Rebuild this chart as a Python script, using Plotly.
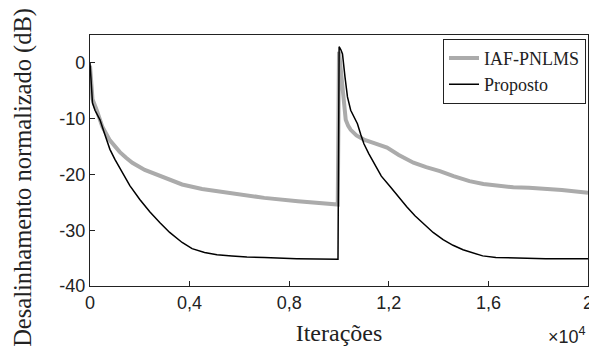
import plotly.graph_objects as go

# IAF-PNLMS (gray)
iter_iaf = [0, 30, 100, 270, 500, 800, 1000, 1200, 1450, 1700, 2200, 2650, 3100, 3700, 4500, 5100, 5700, 7000, 8350, 9000, 9950,
            10000, 10060, 10130, 10200, 10270, 10370, 10470, 10700, 11000, 11500, 11930, 12400, 12990, 13500, 14050, 14600,
            15240, 15800, 16300, 17000, 17630, 18300, 18950, 20000]
db_iaf = [-0.5, -3, -6.5, -8.5, -11.5, -13.9, -15.0, -16, -17.0, -17.9, -19.2, -20, -20.9, -21.8, -22.6, -23.0, -23.4, -24.2, -24.8, -25.0, -25.4,
          2.0, -1, -5, -8, -10.2, -11.3, -12, -13.0, -13.75, -14.5, -15.2, -16.5, -17.9, -18.7, -19.4, -20.3,
          -21.2, -21.7, -22, -22.3, -22.4, -22.6, -22.8, -23.3]

# Proposto (black)
iter_prop = [0, 20, 50, 100, 200, 400, 600, 800, 1000, 1300, 1600, 2000, 2400, 2800, 3200, 3700, 4100, 4600, 5100, 5700,
             6300, 7000, 8300, 9960,
             10005, 10080, 10140, 10240, 10340, 10470, 10600, 10740, 10870, 11000, 11200, 11400, 11700, 12060, 12400,
             12720, 13050, 13390, 13780, 14180, 14580, 14980, 15370, 15770, 16300, 16970, 18300, 20000]
db_prop = [0, -2, -4.5, -7.2, -8.5, -10.2, -12.9, -15.5, -17.3, -19.7, -22.0, -24.5, -26.7, -28.6, -30.4, -32.2, -33.3, -34.0, -34.4, -34.6,
           -34.8, -34.9, -35.1, -35.2,
           2.9, 2.3, 1.6, -2.5, -6.1, -8.5, -9.6, -10.9, -12.8, -14.5, -16.3, -18, -20.3, -22.2, -24.1,
           -25.8, -27.4, -28.8, -30.4, -31.7, -32.7, -33.5, -34.1, -34.6, -34.9, -35, -35.1, -35.1]

x_tickvals = [0, 4000, 8000, 12000, 16000, 20000]
x_ticktext = ["0", "0,4", "0,8", "1,2", "1,6", "2"]
y_tickvals = [0, -10, -20, -30, -40]
y_ticktext = ["0", "-10", "-20", "-30", "-40"]

SERIF = "Liberation Serif"
SANS = "Liberation Sans"

fig = go.Figure()
fig.add_trace(go.Scatter(x=iter_iaf, y=db_iaf, mode="lines", name="IAF-PNLMS",
                         line=dict(color="#ababab", width=4)))
fig.add_trace(go.Scatter(x=iter_prop, y=db_prop, mode="lines", name="Proposto",
                         line=dict(color="black", width=1.5)))

axis_common = dict(showline=True, linecolor="#222", linewidth=1.3, mirror=True, showgrid=False, zeroline=False,
                   ticks="inside", ticklen=5, tickcolor="#222", ticklabeloverflow="allow",
                   tickfont=dict(family=SANS, size=18, color="#222"))
fig.update_xaxes(range=[0, 20000], tickvals=x_tickvals, ticktext=x_ticktext,
                 title=dict(text="Iterações", font=dict(family=SERIF, size=24, color="#222"), standoff=12),
                 **axis_common)
fig.update_yaxes(range=[-40, 5], tickvals=y_tickvals, ticktext=y_ticktext, **axis_common)

# y-axis title (placed as a rotated annotation, centred lower than the plot centre as in the reference)
fig.add_annotation(text="Desalinhamento normalizado (dB)", xref="paper", yref="paper", x=-0.135, y=0.434,
                   xanchor="center", yanchor="middle", textangle=-90, showarrow=False,
                   font=dict(family=SERIF, size=24.5, color="#222"))

fig.add_annotation(text="×10<sup>4</sup>", xref="paper", yref="paper", x=1.0, y=-0.145, xanchor="right", yanchor="top",
                   showarrow=False, font=dict(family=SANS, size=18, color="#222"))

# page body has an 8px margin, so the figure is offset by 8px
fig.update_layout(
    width=589, height=341,
    margin=dict(l=82, r=4, t=27, b=63),
    plot_bgcolor="white", paper_bgcolor="white",
    legend=dict(x=0.996, y=0.985, xanchor="right", yanchor="top", bordercolor="#222", borderwidth=1,
                bgcolor="white", font=dict(family=SERIF, size=18, color="#222"),
                tracegroupgap=0, itemwidth=30),
)
fig.write_html("out.html")
